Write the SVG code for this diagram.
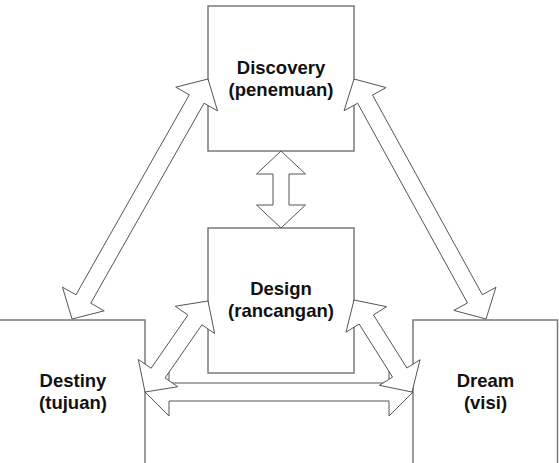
<svg xmlns="http://www.w3.org/2000/svg" width="559" height="463" viewBox="0 0 559 463">
<style>
.box{fill:#fff;stroke:#7a7a7a;stroke-width:1.5}
.arr{fill:#fff;stroke:#555;stroke-width:1;stroke-linejoin:miter}
.t{font-family:"Liberation Sans",Arial,sans-serif;font-weight:bold;font-size:18.5px;fill:#111;text-anchor:middle}
</style>
<rect width="559" height="463" fill="#fff"/>
<g id="discovery">
<rect class="box" x="208" y="6" width="146" height="145"/>
<text class="t" x="281" y="74">Discovery</text>
<text class="t" x="281" y="96">(penemuan)</text>
</g>
<g id="design">
<rect class="box" x="208" y="228" width="146" height="145"/>
<text class="t" x="281" y="295">Design</text>
<text class="t" x="281" y="317">(rancangan)</text>
</g>
<g id="destiny">
<rect class="box" x="-2" y="320" width="147" height="150"/>
<text class="t" x="73" y="387">Destiny</text>
<text class="t" x="73" y="409">(tujuan)</text>
</g>
<g id="dream">
<rect class="box" x="413" y="320" width="144.5" height="150"/>
<text class="t" x="485.5" y="387">Dream</text>
<text class="t" x="485.5" y="409">(visi)</text>
</g>
<g id="connectors">
<polygon class="arr" points="145,392 169,368 169,383 389,383 389,368 413,392 389,416 389,401 169,401 169,416"/>
<polygon class="arr" points="281,151 305.5,174 289,174 289,205 305.5,205 281,228 256.5,205 273,205 273,174 256.5,174"/>
<polygon class="arr" points="208,79 217.54,110.84 204.05,103.2 90.73,303.18 104.22,310.82 72,319 62.46,287.16 75.95,294.8 189.27,94.82 175.78,87.18"/>
<polygon class="arr" points="354,79 386.11,87.58 372.53,95.05 482.37,294.75 495.95,287.28 486,319 453.89,310.42 467.47,302.95 357.63,103.25 344.05,110.72"/>
<polygon class="arr" points="208,301 214.64,333.57 201.9,324.75 165.08,377.93 177.82,386.75 145,392 138.36,359.43 151.1,368.25 187.92,315.07 175.18,306.25"/>
<polygon class="arr" points="354,300 386.57,306.66 373.46,314.93 406.92,368.01 420.03,359.74 412,392 379.43,385.34 392.54,377.07 359.08,323.99 345.97,332.26"/>
</g>
</svg>
